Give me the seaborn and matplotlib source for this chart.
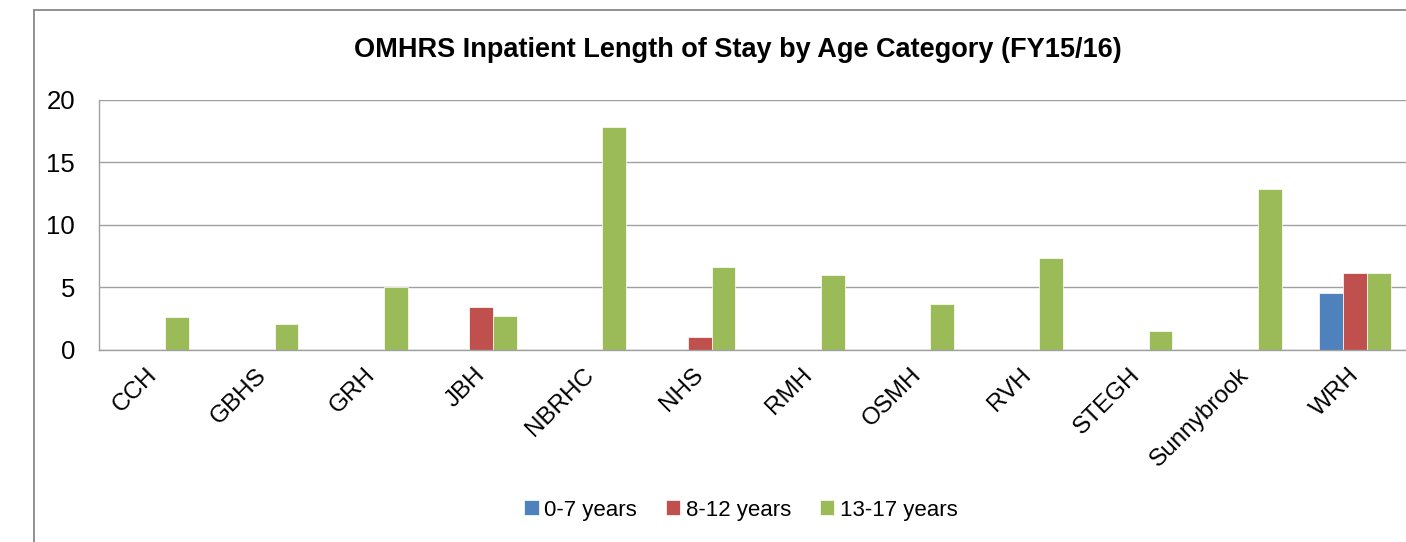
import matplotlib
matplotlib.use("Agg")
import matplotlib.pyplot as plt
import matplotlib.transforms as mtransforms
from matplotlib.patches import Rectangle
import numpy as np
import pandas as pd
import seaborn as sns

hospitals = ["CCH", "GBHS", "GRH", "JBH", "NBRHC", "NHS", "RMH", "OSMH",
             "RVH", "STEGH", "Sunnybrook", "WRH"]
age_groups = ["0-7 years", "8-12 years", "13-17 years"]
age_0_7 = [None, None, None, None, None, None, None, None, None, None, None, 4.56]
age_8_12 = [None, None, None, 3.39, None, 0.99, None, None, None, None, None, 6.16]
age_13_17 = [2.64, 2.03, 5.02, 2.7, 17.8, 6.6, 5.94, 3.62, 7.36, 1.5, 12.88, 6.13]
colors = ["#4F81BD", "#C0504D", "#9BBB59"]

df = pd.DataFrame({"hospital": hospitals, "0-7 years": age_0_7,
                   "8-12 years": age_8_12, "13-17 years": age_13_17})
long = df.melt(id_vars="hospital", var_name="age", value_name="los").dropna()
long["los"] = long["los"].astype(float)

sns.set_style("white")
plt.rcParams["font.family"] = ["Liberation Sans", "DejaVu Sans"]
plt.rcParams["text.color"] = "black"
plt.rcParams["xtick.color"] = "black"
plt.rcParams["ytick.color"] = "black"

fig = plt.figure(figsize=(14.06, 5.42), dpi=100)
ax = fig.add_axes([0.0702, 0.3548, 0.9324, 0.4613])

sns.barplot(data=long, x="hospital", y="los", hue="age", order=hospitals,
            hue_order=age_groups, palette=colors, width=0.657, errorbar=None,
            saturation=1, edgecolor="white", linewidth=0.5, ax=ax)

ax.set_xlim(-0.5, len(hospitals) - 0.5)
ax.set_ylim(0, 20)
ax.set_yticks([0, 5, 10, 15, 20])
ax.set_xlabel("")
ax.set_ylabel("")

grid_c = "#a0a0a0"
ax.yaxis.grid(True, color=grid_c, linewidth=1.0)
ax.set_axisbelow(True)
for side in ["top", "right"]:
    ax.spines[side].set_visible(False)
for side in ["left", "bottom"]:
    ax.spines[side].set_color(grid_c)
    ax.spines[side].set_linewidth(1.0)

ax.tick_params(axis="y", length=5, width=1, color=grid_c, labelcolor="black",
               pad=12, labelsize=18.5)
ax.tick_params(axis="x", length=5, width=1, color=grid_c, labelcolor="black",
               pad=24, labelsize=17.5)
ax.set_xticks(np.arange(len(hospitals)) + 0.5, minor=True)
ax.tick_params(axis="x", which="minor", length=5, width=1, color=grid_c)
ax.tick_params(axis="x", which="major", length=0)

offset = mtransforms.ScaledTranslation(4.5 / 100, 7 / 100, fig.dpi_scale_trans)
ax.set_xticks(range(len(hospitals)))
ax.set_xticklabels(hospitals)
for lab in ax.get_xticklabels():
    lab.set_fontfamily("Liberation Sans")
    lab.set_rotation(45)
    lab.set_ha("right")
    lab.set_va("baseline")
    lab.set_rotation_mode("anchor")
    lab.set_transform(lab.get_transform() + offset)

handles, labels = ax.get_legend_handles_labels()
ax.legend(handles, labels, loc="center", bbox_to_anchor=(0.527, 0.059),
          bbox_transform=fig.transFigure, ncol=3, frameon=False, fontsize=16,
          handlelength=0.65, handleheight=0.65, handletextpad=0.25,
          columnspacing=1.3)

fig.text(0.525, 0.908, "OMHRS Inpatient Length of Stay by Age Category (FY15/16)",
         ha="center", va="center", fontsize=19.5, fontweight="bold")

fig.patches.append(Rectangle((34 / 1406, -0.1), 1.2, 0.1 + 532.5 / 542,
                             transform=fig.transFigure, fill=False,
                             edgecolor="#888888", linewidth=1.3))

fig.savefig("out.png", dpi=100)
plt.close(fig)
